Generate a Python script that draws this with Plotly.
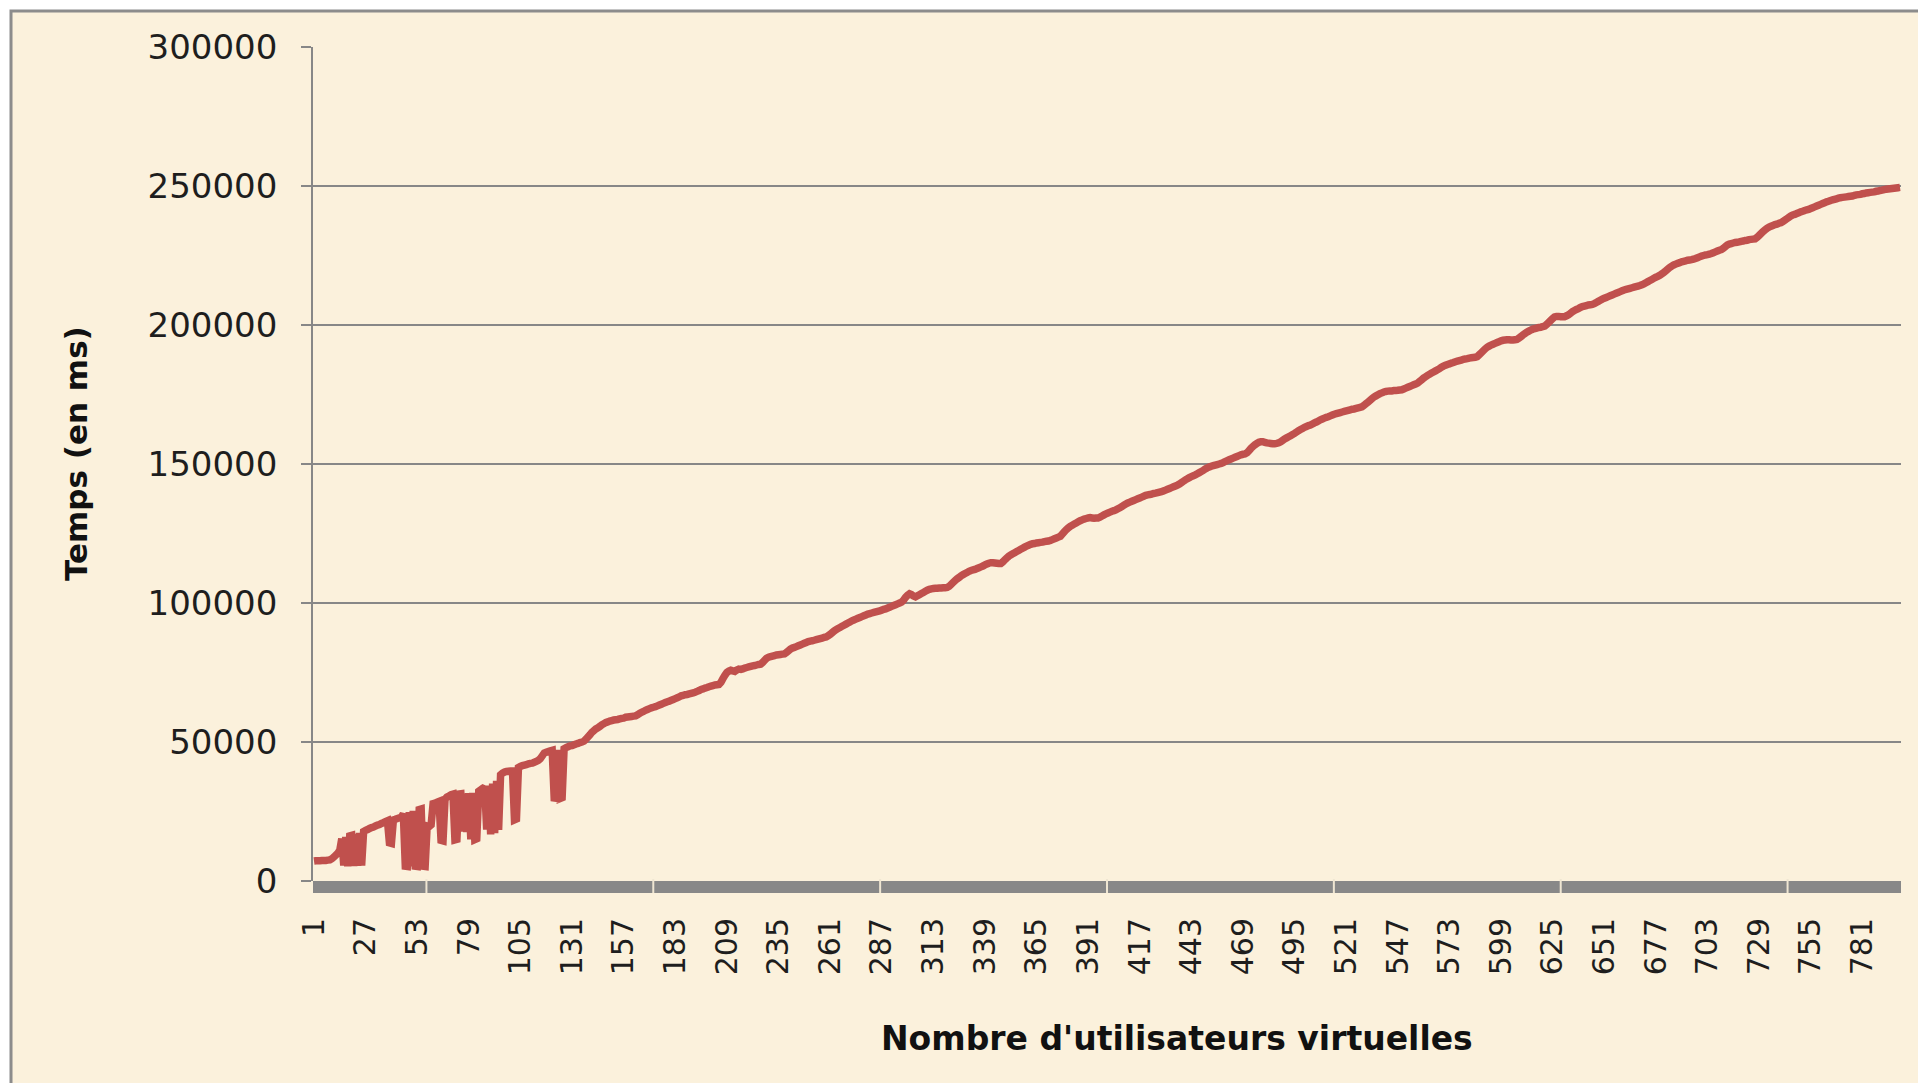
import plotly.graph_objects as go

# Nombre d'utilisateurs virtuelles (categories 1..800)
utilisateurs = list(range(1, 801))

# Temps (en ms)
temps_ms = [
    7200, 7300, 7300, 7300, 7400, 7400, 7400, 7500, 7600, 8000,
    8600, 9300, 10000, 11100, 15200, 5600, 15800, 5300, 16200, 16400,
    5400, 16900, 5500, 17300, 5600, 17800, 18200, 18500, 18900, 19200,
    19400, 19800, 20100, 20300, 20700, 21000, 21400, 21700, 13700, 13500,
    22000, 22200, 22500, 22700, 22900, 24200, 5300, 5200, 24800, 5300,
    25200, 5300, 5200, 25700, 25900, 5300, 5200, 19800, 19600, 20200,
    27800, 28000, 28300, 28600, 14600, 14400, 29400, 30200, 30600, 31000,
    31200, 14800, 15000, 31300, 31400, 17800, 31500, 17600, 31600, 15000,
    31700, 14900, 15200, 32300, 32800, 33300, 33800, 18500, 34300, 16800,
    35000, 17200, 36000, 18400, 38200, 38800, 39200, 39400, 39500, 39600,
    39600, 22000, 22300, 40800, 41200, 41500, 41700, 41900, 42100, 42300,
    42400, 42700, 43000, 43400, 44000, 45000, 46000, 46300, 46600, 46800,
    47000, 29900, 29800, 47200, 29700, 30000, 47600, 48000, 48300, 48600,
    48700, 49000, 49300, 49500, 49800, 50000, 50300, 51000, 51800, 52600,
    53500, 54100, 54700, 55100, 55600, 56200, 56600, 57000, 57200, 57500,
    57700, 57900, 58000, 58100, 58300, 58500, 58600, 58900, 59000, 59100,
    59200, 59300, 59400, 59800, 60300, 60700, 61000, 61400, 61700, 62000,
    62300, 62500, 62700, 63000, 63300, 63600, 63900, 64200, 64500, 64700,
    65000, 65300, 65600, 65900, 66200, 66600, 66800, 67000, 67100, 67300,
    67500, 67700, 67900, 68200, 68500, 68900, 69100, 69400, 69600, 69900,
    70100, 70300, 70500, 70600, 70700, 71500, 72800, 74000, 75000, 75500,
    75800, 75600, 75400, 75900, 76200, 76100, 76300, 76600, 76800, 77000,
    77200, 77400, 77500, 77700, 77900, 78000, 78600, 79400, 80100, 80500,
    80700, 80900, 81100, 81300, 81400, 81500, 81600, 81700, 82200, 82800,
    83400, 83800, 84000, 84300, 84600, 84900, 85200, 85500, 85800, 86100,
    86300, 86400, 86600, 86800, 87000, 87200, 87400, 87600, 87800, 88200,
    88700, 89300, 89900, 90400, 90800, 91200, 91600, 92000, 92400, 92800,
    93200, 93600, 93900, 94200, 94500, 94800, 95100, 95400, 95700, 96000,
    96200, 96400, 96600, 96800, 97000, 97200, 97400, 97700, 97900, 98200,
    98500, 98800, 99100, 99400, 99700, 100000, 100300, 101000, 102000, 102800,
    103300, 103000, 102500, 102200, 102600, 103000, 103400, 103800, 104200, 104600,
    104900, 105100, 105200, 105300, 105300, 105400, 105400, 105500, 105500, 105600,
    106000, 106700, 107400, 108100, 108700, 109200, 109800, 110200, 110600, 111000,
    111400, 111700, 111900, 112100, 112400, 112700, 113000, 113300, 113700, 114000,
    114300, 114500, 114500, 114400, 114300, 114200, 114200, 114800, 115500, 116200,
    116800, 117300, 117700, 118100, 118500, 118900, 119300, 119700, 120100, 120500,
    120800, 121100, 121300, 121400, 121600, 121700, 121800, 121900, 122100, 122200,
    122300, 122500, 122800, 123100, 123400, 123700, 124000, 124800, 125600, 126400,
    127000, 127600, 128000, 128400, 128800, 129200, 129600, 129900, 130200, 130400,
    130600, 130700, 130600, 130500, 130600, 130600, 130900, 131300, 131700, 132100,
    132400, 132700, 133000, 133200, 133500, 133900, 134300, 134700, 135200, 135600,
    136000, 136300, 136600, 136900, 137200, 137500, 137800, 138100, 138400, 138700,
    138900, 139000, 139200, 139400, 139500, 139700, 139900, 140100, 140300, 140600,
    140900, 141200, 141500, 141800, 142100, 142400, 142800, 143300, 143800, 144300,
    144700, 145100, 145500, 145800, 146100, 146500, 146900, 147300, 147700, 148200,
    148600, 148900, 149200, 149400, 149600, 149800, 150000, 150200, 150500, 150900,
    151200, 151500, 151800, 152100, 152400, 152700, 153000, 153300, 153500, 153600,
    154000, 154800, 155600, 156300, 156900, 157400, 157800, 158000, 158000, 157800,
    157600, 157500, 157400, 157300, 157300, 157400, 157600, 158000, 158500, 159000,
    159400, 159800, 160200, 160600, 161000, 161500, 162000, 162400, 162800, 163200,
    163500, 163800, 164000, 164400, 164800, 165100, 165500, 165900, 166200, 166500,
    166800, 167000, 167300, 167600, 167900, 168100, 168300, 168500, 168700, 168900,
    169100, 169300, 169500, 169700, 169800, 170000, 170200, 170400, 170600, 171100,
    171700, 172300, 172900, 173500, 174100, 174500, 174900, 175300, 175600, 175900,
    176100, 176200, 176300, 176300, 176400, 176400, 176500, 176600, 176700, 177000,
    177300, 177600, 177900, 178200, 178500, 178800, 179100, 179700, 180300, 180900,
    181400, 181900, 182300, 182700, 183100, 183500, 183900, 184300, 184800, 185200,
    185500, 185800, 186000, 186300, 186500, 186800, 187000, 187200, 187400, 187600,
    187800, 187900, 188100, 188200, 188300, 188400, 188600, 189300, 190000, 190700,
    191400, 192000, 192400, 192800, 193100, 193400, 193700, 194000, 194300, 194500,
    194600, 194700, 194700, 194600, 194600, 194700, 194800, 195300, 195800, 196400,
    196900, 197400, 197800, 198200, 198500, 198700, 198900, 199100, 199200, 199400,
    199600, 200200, 200900, 201600, 202300, 202900, 203100, 203100, 203000, 203000,
    203000, 203300, 203700, 204200, 204800, 205200, 205600, 205900, 206300, 206600,
    206800, 207000, 207200, 207300, 207400, 207700, 208100, 208500, 208900, 209300,
    209600, 209900, 210200, 210500, 210800, 211100, 211400, 211700, 212000, 212300,
    212600, 212800, 213000, 213200, 213400, 213600, 213800, 214000, 214200, 214500,
    214800, 215200, 215600, 216000, 216400, 216800, 217200, 217500, 217900, 218400,
    218900, 219500, 220100, 220700, 221200, 221600, 221900, 222200, 222400, 222700,
    222900, 223100, 223300, 223400, 223500, 223700, 223900, 224200, 224500, 224800,
    225000, 225200, 225300, 225500, 225700, 226000, 226300, 226600, 226900, 227100,
    227600, 228200, 228800, 229100, 229300, 229500, 229700, 229800, 229900, 230100,
    230200, 230400, 230500, 230700, 230800, 230900, 231000, 231500, 232200, 232900,
    233600, 234200, 234800, 235200, 235500, 235800, 236100, 236300, 236600, 236800,
    237200, 237700, 238200, 238700, 239200, 239600, 239800, 240100, 240400, 240700,
    240900, 241200, 241400, 241600, 241900, 242200, 242500, 242800, 243100, 243400,
    243700, 244000, 244300, 244500, 244800, 245000, 245200, 245400, 245600, 245800,
    245900, 246000, 246100, 246200, 246300, 246400, 246600, 246800, 246900, 247000,
    247200, 247300, 247500, 247600, 247700, 247800, 247900, 248100, 248200, 248400,
    248500, 248700, 248800, 248900, 249000, 249100, 249200, 249300, 249400, 249500,
]

x_tick_labels = [1, 27, 53, 79, 105, 131, 157, 183, 209, 235, 261, 287, 313,
                 339, 365, 391, 417, 443, 469, 495, 521, 547, 573, 599, 625,
                 651, 677, 703, 729, 755, 781]
y_ticks = [0, 50000, 100000, 150000, 200000, 250000, 300000]

# the page adds an 8 px body margin; the figure is sized to fill the rest
OFF = 8
W, H = 1926 - OFF, 1083 - OFF
L, R, T, B = 313 - OFF, 25, 47 - OFF, 202
PW, PH = W - L - R, H - T - B

BG = "#FBF1DC"
GRID = "#878787"
FONT = "DejaVu Sans"

fig = go.Figure()
fig.add_trace(go.Scatter(
    x=utilisateurs, y=temps_ms, mode="lines",
    line=dict(color="#C0504D", width=7.5, simplify=False),
    showlegend=False, hoverinfo="skip",
))


def px_x(p):  # page pixel -> paper x
    return (p - OFF - L) / PW


def px_y(p):  # page pixel -> paper y
    return (H - B - (p - OFF)) / PH


shapes = [
    # chart area background with grey frame (left / top edges visible)
    dict(type="rect", xref="paper", yref="paper",
         x0=px_x(11), x1=px_x(1926 + 20), y0=px_y(1083 + 20), y1=px_y(11),
         fillcolor=BG, line=dict(color="#8C8C8C", width=3), layer="below"),
    # thick grey category axis bar
    dict(type="rect", xref="paper", yref="paper", x0=0, x1=1,
         ysizemode="pixel", yanchor=0, y0=0, y1=-12,
         fillcolor="#888888", line=dict(width=0), layer="above"),
]
for k in range(7):
    xp = (k + 0.5) / 7
    shapes.append(dict(type="line", xref="paper", yref="paper", x0=xp, x1=xp,
                       ysizemode="pixel", yanchor=0, y0=2, y1=-12,
                       line=dict(color="#EFE6D2", width=2), layer="above"))

fig.update_layout(
    width=W, height=H,
    margin=dict(l=L, r=R, t=T, b=B, pad=0),
    paper_bgcolor="white",
    plot_bgcolor="rgba(0,0,0,0)",
    font=dict(family=FONT, color="#1E1E1E"),
    shapes=shapes,
    xaxis=dict(
        range=[0.5, 800.5], showgrid=False, zeroline=False, showline=False,
        tickmode="array", tickvals=x_tick_labels,
        ticktext=[str(v) for v in x_tick_labels],
        tickangle=-90, ticks="", ticklabelstandoff=30,
        tickfont=dict(family=FONT, size=30, color="#1E1E1E"),
    ),
    yaxis=dict(
        range=[0, 300000], tickmode="array", tickvals=y_ticks,
        ticktext=[str(v) for v in y_ticks],
        showgrid=True, gridcolor=GRID, gridwidth=1.6,
        zeroline=False, showline=True, linecolor=GRID, linewidth=1.6,
        ticks="outside", ticklen=10, tickcolor=GRID, tickwidth=1.6,
        ticklabelstandoff=17,
        tickfont=dict(family=FONT, size=34, color="#1E1E1E"),
    ),
    annotations=[
        dict(text="<b>Temps (en ms)</b>", xref="paper", yref="paper",
             x=px_x(76), y=px_y(453), textangle=-90, showarrow=False,
             xanchor="center", yanchor="middle",
             font=dict(family=FONT, size=31, color="#111111")),
        dict(text="<b>Nombre d'utilisateurs virtuelles</b>", xref="paper",
             yref="paper", x=px_x(1177), y=px_y(1038), showarrow=False,
             xanchor="center", yanchor="middle",
             font=dict(family=FONT, size=33, color="#111111")),
    ],
)

fig.write_html("out.html")
